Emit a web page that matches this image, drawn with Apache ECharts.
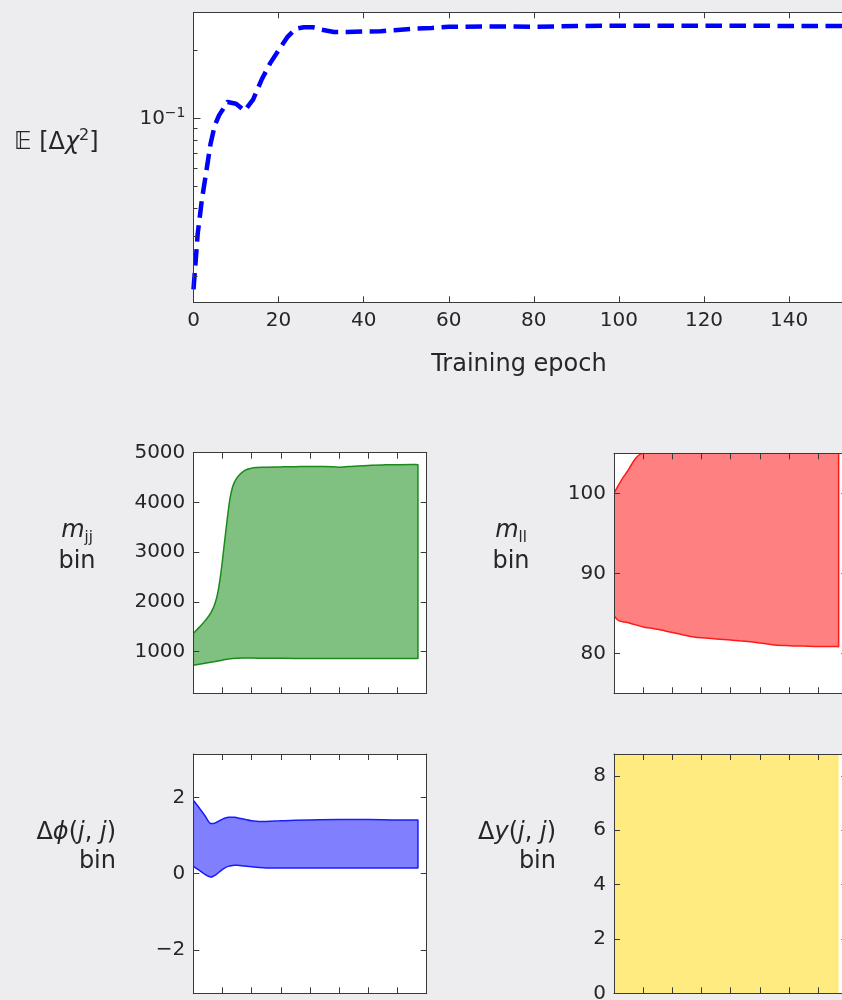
<!DOCTYPE html>
<html>
<head>
<meta charset="utf-8">
<script src="https://cdn.jsdelivr.net/npm/echarts@6/dist/echarts.min.js"></script>
<style>
  html, body { margin: 0; padding: 0; background: #ededf0; }
  #chart { width: 842px; height: 1000px; }
</style>
</head>
<body>
<div id="chart"></div>
<script>
// ---- Expected chi-square gain versus training epoch ----
const lossEpochs = [0, 1, 2, 3, 4, 5, 6, 8, 10, 12, 14, 16, 18, 20, 22, 24, 26, 28, 30, 33, 36, 40, 44, 48, 52, 56, 60, 70, 80, 90, 100, 110, 120, 130, 140, 153];
const lossValues = [0.0175, 0.031, 0.044, 0.058, 0.077, 0.093, 0.103, 0.118, 0.116, 0.108, 0.121, 0.148, 0.175, 0.2, 0.228, 0.249, 0.253, 0.253, 0.247, 0.241, 0.241, 0.242, 0.243, 0.246, 0.249, 0.251, 0.254, 0.255, 0.254, 0.256, 0.257, 0.257, 0.257, 0.257, 0.256, 0.256];
const epochTicks = [0, 20, 40, 60, 80, 100, 120, 140];
const lossMajorTicks = [0.1];
const lossMinorTicks = [0.02, 0.03, 0.04, 0.05, 0.06, 0.07, 0.08, 0.09, 0.2];

// ---- Bin edges learned per epoch (lower / upper) ----
const mjjEpochs = [0, 4, 8, 12, 15, 17, 19, 21, 23, 25, 27, 30, 35, 40, 50, 60, 70, 80, 90, 100, 110, 120, 130, 140, 150, 154];
const mjjLow = [730, 750, 770, 790, 805, 815, 825, 838, 850, 860, 866, 870, 872, 872, 870, 868, 866, 864, 862, 862, 863, 864, 865, 866, 866, 866];
const mjjHigh = [1370, 1490, 1620, 1780, 1980, 2220, 2600, 3100, 3600, 4050, 4320, 4500, 4640, 4690, 4710, 4715, 4720, 4725, 4725, 4710, 4730, 4745, 4755, 4760, 4762, 4760];
const mjjTicks = [1000, 2000, 3000, 4000, 5000];

const mllEpochs = [0, 3, 6, 9, 12, 15, 18, 20, 25, 30, 35, 40, 45, 50, 55, 60, 70, 80, 90, 100, 110, 120, 130, 140, 150, 154];
const mllLow = [84.7, 84.1, 83.95, 83.85, 83.7, 83.55, 83.4, 83.3, 83.15, 83.0, 82.8, 82.6, 82.4, 82.2, 82.05, 81.95, 81.8, 81.65, 81.5, 81.3, 81.05, 80.95, 80.9, 80.85, 80.85, 80.83];
const mllHigh = [100, 101, 101.9, 102.7, 103.6, 104.4, 104.9, 105, 105, 105, 105, 105, 105, 105, 105, 105, 105, 105, 105, 105, 105, 105, 105, 105, 105, 105];
const mllTicks = [80, 90, 100];

const dphiEpochs = [0, 4, 8, 12, 14, 16, 18, 20, 22, 24, 26, 28, 30, 35, 40, 45, 50, 60, 70, 80, 100, 120, 140, 154];
const dphiLow = [0.19, 0.09, -0.02, -0.09, -0.06, -0.01, 0.05, 0.11, 0.16, 0.19, 0.21, 0.22, 0.22, 0.2, 0.18, 0.16, 0.15, 0.15, 0.15, 0.15, 0.15, 0.15, 0.15, 0.15];
const dphiHigh = [1.93, 1.73, 1.52, 1.32, 1.32, 1.35, 1.39, 1.43, 1.46, 1.48, 1.48, 1.48, 1.47, 1.43, 1.39, 1.37, 1.37, 1.39, 1.40, 1.41, 1.42, 1.42, 1.41, 1.41];
const dphiTicks = [-2, 0, 2];

const dyEpochs = [0, 154];
const dyLow = [0, 0];
const dyHigh = [8.8, 8.8];
const dyTicks = [0, 2, 4, 6, 8];

const binTicks = [20, 40, 60, 80, 100, 120, 140];

// ---- styling ----
const FONT = 'DejaVu Sans';
const INK = '#262626';
const FRAME = '#3a3a3a';
const TICK_FONT = 20;
const LABEL_FONT = 24;

const chart = echarts.init(document.getElementById('chart'), null, { renderer: 'canvas', width: 842, height: 1000 });

const grids = [
  { left: 193.5, top: 12.3, width: 650.9, height: 290 },   // loss
  { left: 193.3, top: 452.7, width: 233.4, height: 240.6 }, // m_jj
  { left: 614, top: 453.3, width: 233.4, height: 240 },     // m_ll
  { left: 193.3, top: 754, width: 233.4, height: 239.3 },   // dphi
  { left: 614, top: 754, width: 233.4, height: 239.3 }      // dy
].map(g => Object.assign({ containLabel: false, outerBoundsMode: 'none', show: true, backgroundColor: '#ffffff', borderWidth: 0 }, g));

const xAxes = [];
const yAxes = [];

// plain numbers with a true minus sign
const tickText = v => String(v).replace('-', '\u2212');

function frameAxis(kind, opts) {
  const base = {
    z: 10,
    splitLine: { show: false },
    axisLine: { show: true, onZero: false, lineStyle: { color: FRAME, width: 1 } },
    axisTick: { show: true, inside: true, length: 6, lineStyle: { color: FRAME, width: 1 } },
    axisLabel: { show: false, color: INK, fontFamily: FONT, fontSize: TICK_FONT, margin: 8, formatter: tickText }
  };
  const ax = Object.assign(base, opts);
  if (opts.tickValues) { ax.axisTick.customValues = opts.tickValues; delete ax.tickValues; }
  if (opts.labelValues) { ax.axisLabel.show = true; ax.axisLabel.customValues = opts.labelValues; delete ax.labelValues; }
  if (opts.tickLength) { ax.axisTick.length = opts.tickLength; delete ax.tickLength; }
  if (opts.hideLine) { ax.axisLine.show = false; delete ax.hideLine; }
  (kind === 'x' ? xAxes : yAxes).push(ax);
  return (kind === 'x' ? xAxes : yAxes).length - 1;
}

// Loss panel axes
const lx = frameAxis('x', {
  type: 'value', gridIndex: 0, position: 'bottom', min: 0, max: 153,
  tickValues: epochTicks, labelValues: epochTicks,
  name: 'Training epoch', nameLocation: 'middle', nameGap: 50,
  nameTextStyle: { color: INK, fontFamily: FONT, fontSize: LABEL_FONT }
});
frameAxis('x', { type: 'value', gridIndex: 0, position: 'top', min: 0, max: 153, tickValues: epochTicks });
const ly = frameAxis('y', {
  type: 'log', logBase: 10, gridIndex: 0, position: 'left', min: 0.01535, max: 0.2944,
  tickValues: lossMajorTicks, labelValues: lossMajorTicks, tickLength: 7
});
yAxes[ly].axisLabel.formatter = () => '{n|10}{s|\u22121}';
yAxes[ly].axisLabel.rich = {
  n: { fontFamily: FONT, fontSize: TICK_FONT, color: INK, lineHeight: 24 },
  s: { fontFamily: FONT, fontSize: 14, color: INK, lineHeight: 14, verticalAlign: 'top' }
};
frameAxis('y', {
  type: 'log', logBase: 10, gridIndex: 0, position: 'left', min: 0.01535, max: 0.2944,
  tickValues: lossMinorTicks, tickLength: 4, hideLine: true
});

// Monotone cubic (Fritsch-Carlson) through pixel points, returned as bezier segments
function monotoneSegments(pts) {
  const n = pts.length;
  const segs = [];
  if (n < 2) return segs;
  const d = [], m = [];
  for (let i = 0; i < n - 1; i++) {
    d.push(pts[i + 1][0] - pts[i][0]);
    m.push((pts[i + 1][1] - pts[i][1]) / (d[i] || 1e-9));
  }
  const t = new Array(n);
  t[0] = m[0]; t[n - 1] = m[n - 2];
  for (let i = 1; i < n - 1; i++) t[i] = (m[i - 1] * m[i] <= 0) ? 0 : (m[i - 1] + m[i]) / 2;
  for (let i = 0; i < n - 1; i++) {
    if (m[i] === 0) { t[i] = 0; t[i + 1] = 0; continue; }
    const a = t[i] / m[i], b = t[i + 1] / m[i], s = a * a + b * b;
    if (s > 9) { const k = 3 / Math.sqrt(s); t[i] = k * a * m[i]; t[i + 1] = k * b * m[i]; }
  }
  for (let i = 0; i < n - 1; i++) {
    const h = d[i] / 3;
    segs.push({
      p0: pts[i], p1: pts[i + 1],
      c1: [pts[i][0] + h, pts[i][1] + t[i] * h],
      c2: [pts[i + 1][0] - h, pts[i + 1][1] - t[i + 1] * h]
    });
  }
  return segs;
}

// Band panels drawn as one closed outline: upper edge forward, lower edge back
const bandPanels = [
  { grid: 1, ymin: 165, ymax: 5000, ticks: mjjTicks, epochs: mjjEpochs, low: mjjLow, high: mjjHigh, line: '#1a8a1a', fill: '#80c080', lw: 1.5 },
  { grid: 2, ymin: 75, ymax: 105, ticks: mllTicks, epochs: mllEpochs, low: mllLow, high: mllHigh, line: '#ff1a1a', fill: '#ff8080', lw: 1.5 },
  { grid: 3, ymin: -Math.PI, ymax: Math.PI, ticks: dphiTicks, epochs: dphiEpochs, low: dphiLow, high: dphiHigh, line: '#1a1aff', fill: '#8080ff', lw: 1.5 },
  { grid: 4, ymin: 0, ymax: 8.8, ticks: dyTicks, epochs: dyEpochs, low: dyLow, high: dyHigh, line: '#ffeb80', fill: '#ffeb80', lw: 0 }
];

const series = [{
  type: 'line', xAxisIndex: lx, yAxisIndex: ly,
  data: lossEpochs.map((e, i) => [e, lossValues[i]]),
  showSymbol: false, symbol: 'none', clip: true,
  lineStyle: { color: '#0000ff', width: 4.5, type: [16.5, 7.5], join: 'round', cap: 'butt' }
}];

bandPanels.forEach(p => {
  const bx = frameAxis('x', { type: 'value', gridIndex: p.grid, position: 'bottom', min: 0, max: 160, tickValues: binTicks });
  frameAxis('x', { type: 'value', gridIndex: p.grid, position: 'top', min: 0, max: 160, tickValues: binTicks });
  const by = frameAxis('y', { type: 'value', gridIndex: p.grid, position: 'left', min: p.ymin, max: p.ymax, tickValues: p.ticks, labelValues: p.ticks });
  frameAxis('y', { type: 'value', gridIndex: p.grid, position: 'right', min: p.ymin, max: p.ymax, tickValues: p.ticks });
  const rows = p.epochs.map((e, i) => [e, p.low[i], p.high[i]]);
  series.push({
    type: 'custom', xAxisIndex: bx, yAxisIndex: by, z: 3, clip: true,
    dimensions: ['epoch', 'low', 'high'],
    encode: { x: 0, y: [1, 2] },
    data: rows,
    renderItem: (params, api) => {
      if (params.dataIndex !== 0) return null;
      const up = rows.map(r => api.coord([r[0], r[2]]));
      const lo = rows.map(r => api.coord([r[0], r[1]]));
      const f = v => v.toFixed(2);
      let d = 'M' + f(up[0][0]) + ' ' + f(up[0][1]);
      monotoneSegments(up).forEach(s => {
        d += ' C' + f(s.c1[0]) + ' ' + f(s.c1[1]) + ' ' + f(s.c2[0]) + ' ' + f(s.c2[1]) + ' ' + f(s.p1[0]) + ' ' + f(s.p1[1]);
      });
      const last = lo.length - 1;
      d += ' L' + f(lo[last][0]) + ' ' + f(lo[last][1]);
      const loSegs = monotoneSegments(lo);
      for (let i = loSegs.length - 1; i >= 0; i--) {
        const s = loSegs[i];
        d += ' C' + f(s.c2[0]) + ' ' + f(s.c2[1]) + ' ' + f(s.c1[0]) + ' ' + f(s.c1[1]) + ' ' + f(s.p0[0]) + ' ' + f(s.p0[1]);
      }
      d += ' Z';
      return {
        type: 'path',
        shape: { pathData: d },
        style: { fill: p.fill, stroke: p.lw > 0 ? p.line : null, lineWidth: p.lw, lineJoin: 'round' }
      };
    }
  });
});

// Panel labels
const labelRich = {
  r: { fontFamily: FONT, fontSize: LABEL_FONT, color: INK, lineHeight: 30 },
  i: { fontFamily: FONT, fontSize: LABEL_FONT, fontStyle: 'italic', color: INK, lineHeight: 30 },
  bb: { fontFamily: FONT, fontSize: LABEL_FONT, color: '#8a8a8a', lineHeight: 30 },
  s: { fontFamily: FONT, fontSize: 16, color: INK, lineHeight: 16, verticalAlign: 'top' },
  sub: { fontFamily: FONT, fontSize: 15, color: INK, lineHeight: 15, verticalAlign: 'bottom' }
};
function label(text, x, y, align) {
  return { type: 'text', x: x, y: y, z: 20, style: { text: text, rich: labelRich, align: align, verticalAlign: 'middle', fill: INK, font: LABEL_FONT + 'px "' + FONT + '"' } };
}

const graphic = [
  label('{bb|\uD835\uDD3C} {r|[\u0394}{i|\u03C7}{s|2}{r|]}', 14, 143, 'left'),
  label('{i|m}{sub|jj}', 77, 531, 'center'),
  label('{r|bin}', 77, 562, 'center'),
  label('{i|m}{sub|ll}', 511, 531, 'center'),
  label('{r|bin}', 511, 562, 'center'),
  label('{r|\u0394}{i|\u03D5}{r|(}{i|j}{r|, }{i|j}{r|)}', 116, 833, 'right'),
  label('{r|bin}', 116, 862, 'right'),
  label('{r|\u0394}{i|y}{r|(}{i|j}{r|, }{i|j}{r|)}', 556, 833, 'right'),
  label('{r|bin}', 556, 862, 'right')
];

chart.setOption({
  animation: false,
  backgroundColor: '#ededf0',
  textStyle: { fontFamily: FONT },
  grid: grids,
  xAxis: xAxes,
  yAxis: yAxes,
  series: series,
  graphic: graphic
});
</script>
</body>
</html>
